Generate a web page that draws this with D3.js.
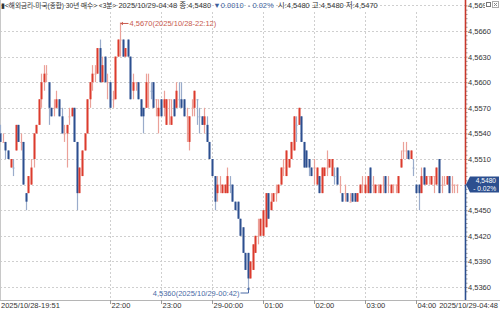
<!DOCTYPE html>
<html>
<head>
<meta charset="utf-8">
<script src="https://cdn.jsdelivr.net/npm/d3@7"></script>
<style>
body { margin: 0; background: #fff; }
svg { display: block; font-family: "Liberation Sans", "Noto Sans CJK KR", sans-serif; }
</style>
</head>
<body>
<svg id="chart" width="500" height="314"></svg>
<script>
// 3-minute candles, 2025/10/28 19:51 -> 2025/10/29 04:48
var startTime = new Date(2025, 9, 28, 19, 51);
var stepMinutes = 3;

var open = [4.554,4.553,4.553,4.552,4.550,4.550,4.552,4.555,4.553,4.553,
 4.547,4.547,4.548,4.551,4.554,4.555,4.558,4.560,4.561,4.560,
 4.557,4.557,4.557,4.558,4.556,4.554,4.554,4.556,4.556,4.557,
 4.553,4.547,4.549,4.552,4.554,4.558,4.560,4.561,4.561,4.564,
 4.560,4.563,4.560,4.560,4.558,4.558,4.563,4.565,4.565,4.563,
 4.565,4.563,4.559,4.560,4.560,4.558,4.557,4.557,4.560,4.559,
 4.560,4.558,4.556,4.558,4.557,4.555,4.558,4.555,4.558,4.557,
 4.558,4.558,4.558,4.556,4.553,4.557,4.557,4.558,4.556,4.556,
 4.555,4.555,4.553,4.551,4.549,4.547,4.548,4.547,4.547,4.547,
 4.548,4.548,4.546,4.546,4.544,4.543,4.540,4.540,4.537,4.538,
 4.540,4.542,4.542,4.542,4.543,4.547,4.545,4.546,4.547,4.547,
 4.548,4.550,4.549,4.550,4.551,4.552,4.555,4.555,4.556,4.553,
 4.552,4.551,4.550,4.550,4.548,4.549,4.547,4.549,4.550,4.550,
 4.549,4.549,4.550,4.548,4.547,4.547,4.547,4.546,4.547,4.547,
 4.546,4.547,4.548,4.547,4.547,4.550,4.548,4.547,4.548,4.547,
 4.548,4.549,4.548,4.547,4.548,4.548,4.547,4.550,4.552,4.552,
 4.552,4.551,4.550,4.548,4.548,4.547,4.550,4.548,4.549,4.548,
 4.549,4.548,4.551,4.548,4.548,4.548,4.549,4.548,4.548,4.548];

var high = [4.555,4.554,4.553,4.552,4.551,4.551,4.555,4.555,4.554,4.553,
 4.547,4.549,4.551,4.554,4.555,4.558,4.561,4.562,4.562,4.560,
 4.557,4.558,4.559,4.558,4.557,4.555,4.555,4.557,4.557,4.557,
 4.553,4.550,4.552,4.554,4.558,4.560,4.562,4.562,4.564,4.565,
 4.563,4.563,4.561,4.560,4.559,4.563,4.565,4.567,4.565,4.564,
 4.565,4.563,4.561,4.560,4.560,4.558,4.557,4.561,4.561,4.560,
 4.560,4.558,4.558,4.558,4.559,4.558,4.558,4.558,4.558,4.560,
 4.560,4.560,4.558,4.557,4.556,4.558,4.559,4.558,4.557,4.556,
 4.557,4.556,4.553,4.551,4.549,4.549,4.549,4.548,4.548,4.550,
 4.549,4.548,4.546,4.546,4.544,4.543,4.540,4.540,4.539,4.541,
 4.542,4.544,4.544,4.545,4.547,4.547,4.547,4.547,4.548,4.548,
 4.550,4.551,4.552,4.551,4.553,4.556,4.556,4.557,4.556,4.553,
 4.552,4.551,4.550,4.551,4.550,4.549,4.550,4.550,4.552,4.551,
 4.551,4.550,4.550,4.549,4.547,4.548,4.547,4.547,4.547,4.547,
 4.547,4.548,4.549,4.549,4.549,4.550,4.549,4.548,4.548,4.548,
 4.549,4.549,4.549,4.548,4.548,4.548,4.549,4.552,4.553,4.553,
 4.552,4.552,4.551,4.548,4.548,4.550,4.550,4.549,4.549,4.549,
 4.549,4.550,4.551,4.549,4.549,4.549,4.549,4.549,4.548,4.548];

var low = [4.553,4.553,4.551,4.551,4.550,4.549,4.552,4.553,4.552,4.548,
 4.545,4.547,4.548,4.550,4.554,4.555,4.557,4.559,4.560,4.555,
 4.556,4.556,4.557,4.556,4.554,4.553,4.550,4.555,4.556,4.553,
 4.545,4.547,4.549,4.552,4.554,4.557,4.559,4.560,4.561,4.560,
 4.560,4.560,4.558,4.557,4.557,4.558,4.563,4.563,4.563,4.563,
 4.563,4.558,4.558,4.559,4.558,4.556,4.554,4.557,4.557,4.558,
 4.557,4.556,4.554,4.556,4.556,4.555,4.555,4.555,4.556,4.557,
 4.557,4.557,4.556,4.553,4.552,4.556,4.556,4.555,4.554,4.555,
 4.554,4.553,4.551,4.549,4.545,4.546,4.547,4.547,4.547,4.547,
 4.547,4.546,4.545,4.544,4.542,4.540,4.538,4.536,4.537,4.538,
 4.540,4.541,4.542,4.542,4.543,4.544,4.545,4.546,4.546,4.547,
 4.548,4.549,4.549,4.550,4.551,4.552,4.553,4.555,4.553,4.550,
 4.550,4.549,4.549,4.548,4.548,4.547,4.547,4.549,4.549,4.550,
 4.549,4.548,4.548,4.547,4.546,4.546,4.546,4.546,4.546,4.546,
 4.546,4.547,4.547,4.547,4.547,4.547,4.547,4.547,4.547,4.547,
 4.547,4.547,4.547,4.547,4.547,4.547,4.547,4.550,4.551,4.551,
 4.551,4.551,4.549,4.547,4.545,4.547,4.548,4.548,4.548,4.548,
 4.547,4.548,4.547,4.547,4.548,4.548,4.547,4.547,4.547,4.547];

var close = [4.553,4.553,4.552,4.551,4.551,4.550,4.555,4.553,4.553,4.548,
 4.546,4.549,4.550,4.554,4.555,4.558,4.560,4.561,4.561,4.557,
 4.556,4.557,4.558,4.556,4.554,4.554,4.555,4.556,4.557,4.553,
 4.547,4.550,4.552,4.554,4.558,4.560,4.561,4.561,4.564,4.560,
 4.562,4.560,4.560,4.557,4.558,4.563,4.565,4.565,4.563,4.564,
 4.563,4.558,4.560,4.560,4.558,4.556,4.556,4.560,4.560,4.559,
 4.557,4.558,4.557,4.556,4.558,4.558,4.558,4.556,4.556,4.559,
 4.558,4.557,4.556,4.556,4.556,4.557,4.559,4.558,4.556,4.555,
 4.556,4.553,4.551,4.549,4.546,4.548,4.548,4.548,4.548,4.549,
 4.548,4.546,4.545,4.544,4.542,4.540,4.538,4.537,4.539,4.541,
 4.542,4.542,4.544,4.545,4.547,4.544,4.546,4.547,4.547,4.548,
 4.550,4.550,4.552,4.551,4.553,4.556,4.555,4.557,4.553,4.550,
 4.550,4.550,4.549,4.550,4.550,4.547,4.550,4.550,4.550,4.551,
 4.551,4.549,4.548,4.548,4.546,4.547,4.546,4.546,4.546,4.546,
 4.547,4.548,4.548,4.548,4.549,4.547,4.548,4.548,4.548,4.548,
 4.548,4.547,4.548,4.548,4.548,4.548,4.549,4.551,4.552,4.552,
 4.551,4.552,4.550,4.547,4.547,4.549,4.548,4.549,4.549,4.549,
 4.549,4.550,4.547,4.548,4.548,4.549,4.547,4.548,4.548,4.548];

var priceTicks = [4.569, 4.566, 4.563, 4.560, 4.557, 4.554, 4.551, 4.548, 4.545, 4.542, 4.539, 4.536];
var hourTicks = [new Date(2025, 9, 28, 22, 0), new Date(2025, 9, 28, 23, 0), new Date(2025, 9, 29, 0, 0),
    new Date(2025, 9, 29, 1, 0), new Date(2025, 9, 29, 2, 0), new Date(2025, 9, 29, 3, 0), new Date(2025, 9, 29, 4, 0)];
var hourLabels = ["22:00", "23:00", "29-00:00", "01:00", "02:00", "03:00", "04:00"];

var headerParts = [
    {text: "▮<해외금리-미국(종합) 30년 매수>", size: 6.6, color: "#333"},
    {text: " <3분>", size: 6.6, color: "#333"},
    {text: " 2025/10/29-04:48", size: 7.5, color: "#333"},
    {text: " 종:4,5480", size: 7.5, color: "#333"},
    {text: " ▼0.0010  - 0.02%", size: 7.5, color: "#3d5f9e"},
    {text: "  시:4,5480", size: 7.5, color: "#333"},
    {text: " 고:4,5480", size: 7.5, color: "#333"},
    {text: " 저:4,5470", size: 7.5, color: "#333"}
];
var changeText = "- 0.02%";

var upColor = "#dc3b2d", downColor = "#2c4f8f",
    upWick = "#eba199", downWick = "#9aaccb",
    gridColor = "#cfcfcf";

var data = close.map(function (c, i) {
    return {
        t: new Date(startTime.getTime() + i * stepMinutes * 60000),
        o: open[i], h: high[i], l: low[i], c: c,
        prev: i > 0 ? close[i - 1] : c
    };
});

var svg = d3.select("#chart"),
    plotRight = 465,
    plotBottom = 300;

var x = d3.scaleTime()
    .domain([data[0].t, data[data.length - 1].t])
    .range([0.4, 456.8]);

var y = d3.scaleLinear()
    .domain([4.536, 4.569])
    .range([287, 5.4]);

var fmt = function (v) { return d3.format(".4f")(v).replace(".", ","); };
var timeFmt = d3.timeFormat("%Y/%m/%d-%H:%M");

// grid
svg.append("g")
    .selectAll("line")
    .data(priceTicks)
    .join("line")
    .attr("x1", 0).attr("x2", plotRight)
    .attr("y1", d => Math.round(y(d)) + 0.5).attr("y2", d => Math.round(y(d)) + 0.5)
    .attr("stroke", gridColor)
    .attr("stroke-dasharray", "2,2");

svg.append("g")
    .selectAll("line")
    .data(hourTicks)
    .join("line")
    .attr("x1", d => Math.round(x(d)) + 0.5).attr("x2", d => Math.round(x(d)) + 0.5)
    .attr("y1", 12).attr("y2", plotBottom)
    .attr("stroke", gridColor)
    .attr("stroke-dasharray", "2,2");

// left border
svg.append("line")
    .attr("x1", 0.5).attr("x2", 0.5).attr("y1", 0).attr("y2", plotBottom)
    .attr("stroke", "#c8c8c8");

// candles
function isUp(d) {
    if (d.c > d.o + 1e-9) return true;
    if (d.c < d.o - 1e-9) return false;
    return d.c >= d.prev;
}

var candle = svg.append("g")
    .selectAll("g")
    .data(data)
    .join("g");

candle.append("line")
    .attr("x1", d => Math.round(x(d.t)) + 0.5)
    .attr("x2", d => Math.round(x(d.t)) + 0.5)
    .attr("y1", d => y(d.h))
    .attr("y2", d => y(d.l))
    .attr("stroke", d => isUp(d) ? upWick : downWick)
    .attr("stroke-width", 1.2);

candle.append("rect")
    .attr("x", d => Math.round(x(d.t)) - 0.5)
    .attr("width", 2)
    .attr("y", d => y(Math.max(d.o, d.c)))
    .attr("height", d => Math.max(1, y(Math.min(d.o, d.c)) - y(Math.max(d.o, d.c))))
    .attr("fill", d => {
        if (Math.abs(d.c - d.o) < 1e-9) return isUp(d) ? upWick : downWick;
        return isUp(d) ? upColor : downColor;
    });

// bottom axis
var xAxis = svg.append("g")
    .attr("transform", "translate(0," + plotBottom + ")")
    .call(d3.axisBottom(x)
        .tickValues(hourTicks)
        .tickSize(4)
        .tickFormat((d, i) => hourLabels[i]))
    .call(g => g.select(".domain").attr("d", "M0,0.5H500").attr("stroke", "#b5b5b5"))
    .call(g => g.selectAll(".tick line").attr("stroke", "#999"))
    .call(g => g.selectAll(".tick text")
        .attr("text-anchor", "start")
        .attr("x", 1)
        .attr("y", 3)
        .attr("dy", "0.71em")
        .attr("fill", "#333")
        .attr("font-family", "Liberation Sans")
        .attr("font-size", 7.5));

xAxis.append("text")
    .attr("x", 1).attr("y", 3).attr("dy", "0.71em")
    .attr("fill", "#333").attr("font-size", 7.5).attr("text-anchor", "start")
    .text(timeFmt(data[0].t));

xAxis.append("text")
    .attr("x", 498).attr("y", 3).attr("dy", "0.71em")
    .attr("fill", "#333").attr("font-size", 7.5).attr("text-anchor", "end")
    .text(timeFmt(data[data.length - 1].t));

// right axis
var last = data[data.length - 1];
svg.append("g")
    .attr("transform", "translate(" + plotRight + ",0)")
    .call(d3.axisRight(y)
        .tickValues(d3.range(4.5355, 4.5695, 0.0005))
        .tickSize(2.5)
        .tickFormat(""))
    .call(g => g.select(".domain").remove())
    .call(g => g.selectAll(".tick line").attr("stroke", "#9a9a9a"));

svg.append("g")
    .attr("transform", "translate(" + plotRight + ",0)")
    .call(d3.axisRight(y)
        .tickValues(priceTicks.filter(v => Math.abs(v - last.c) > 1e-9))
        .tickSize(0)
        .tickPadding(3)
        .tickFormat(fmt))
    .call(g => g.select(".domain").remove())
    .call(g => g.selectAll(".tick text")
        .attr("fill", "#333")
        .attr("font-family", "Liberation Sans")
        .attr("font-size", 7.5));

svg.append("line")
    .attr("x1", plotRight + 0.5).attr("x2", plotRight + 0.5)
    .attr("y1", 0).attr("y2", y(last.c))
    .attr("stroke", "#c8392c").attr("stroke-width", 1.6);
svg.append("line")
    .attr("x1", plotRight + 0.5).attr("x2", plotRight + 0.5)
    .attr("y1", y(last.c)).attr("y2", plotBottom)
    .attr("stroke", "#2c4f8f").attr("stroke-width", 1.6);

// current price box
var by = y(last.c);
svg.append("path")
    .attr("d", "M" + (plotRight + 1) + "," + by + "L" + (plotRight + 5) + "," + (by - 8) +
        "H499V" + (by + 8) + "H" + (plotRight + 5) + "Z")
    .attr("fill", "#2c4f8f");
svg.append("text")
    .attr("x", 496).attr("y", by - 1.6)
    .attr("text-anchor", "end").attr("fill", "#fff").attr("font-size", 6.6)
    .text(fmt(last.c));
svg.append("text")
    .attr("x", 496).attr("y", by + 6.4)
    .attr("text-anchor", "end").attr("fill", "#fff").attr("font-size", 6.6)
    .text(changeText);

// window icons over the top label
svg.append("rect").attr("x", 485).attr("y", 1).attr("width", 14).attr("height", 8).attr("fill", "#fff");
svg.append("rect").attr("x", 486.5).attr("y", 2.5).attr("width", 4).attr("height", 4)
    .attr("fill", "none").attr("stroke", "#777");
svg.append("rect").attr("x", 492.5).attr("y", 1.5).attr("width", 6).attr("height", 6)
    .attr("fill", "none").attr("stroke", "#aaa");
svg.append("path").attr("d", "M494,3L497,6M497,3L494,6").attr("stroke", "#888");

// high / low markers
var hi = d3.maxIndex(data, d => d.h),
    lo = d3.minIndex(data, d => d.l);
var hx = Math.round(x(data[hi].t)) + 0.5, hy = y(data[hi].h) + 1;
svg.append("path")
    .attr("d", "M" + hx + "," + hy + "H" + (hx + 8))
    .attr("stroke", "#c85a4e");
svg.append("path")
    .attr("d", "M" + hx + "," + hy + "l2.5,-1.8v3.6z")
    .attr("fill", "#c85a4e");
svg.append("text")
    .attr("x", hx + 9).attr("y", hy + 2.6)
    .attr("fill", "#c85a4e").attr("font-size", 7.5)
    .text(fmt(data[hi].h) + "(" + timeFmt(data[hi].t) + ")");

var lx = Math.round(x(data[lo].t)) + 0.5, ly = y(data[lo].l) + 6;
svg.append("path")
    .attr("d", "M" + (lx - 8) + "," + ly + "H" + lx + "V" + (ly - 5))
    .attr("fill", "none")
    .attr("stroke", "#4a6aa5");
svg.append("path")
    .attr("d", "M" + lx + "," + (ly - 6) + "l-1.8,2.5h3.6z")
    .attr("fill", "#4a6aa5");
svg.append("text")
    .attr("x", lx - 9).attr("y", ly + 2.6)
    .attr("text-anchor", "end")
    .attr("fill", "#4a6aa5").attr("font-size", 7.5)
    .text(fmt(data[lo].l) + "(" + timeFmt(data[lo].t) + ")");

// header, one line of flowing parts
svg.append("text")
    .attr("x", 1)
    .attr("y", 8)
    .attr("xml:space", "preserve")
    .style("white-space", "pre")
    .selectAll("tspan")
    .data(headerParts)
    .join("tspan")
    .attr("fill", d => d.color)
    .attr("font-size", d => d.size)
    .text(d => d.text);
</script>
</body>
</html>
